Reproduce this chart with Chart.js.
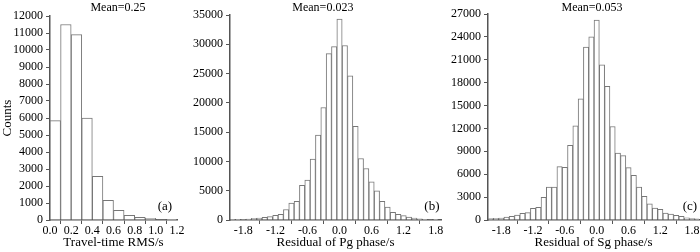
<!DOCTYPE html>
<html>
<head>
<meta charset="utf-8">
<script src="https://cdn.jsdelivr.net/npm/chart.js@4/dist/chart.umd.min.js"></script>
<style>
  body { margin: 0; background: #fff; }
  .panel { position: absolute; top: 0; height: 252px; }
</style>
</head>
<body>
<div class="panel" style="left:0;width:185px"><canvas id="chartA"></canvas></div>
<div class="panel" style="left:185px;width:260px"><canvas id="chartB"></canvas></div>
<div class="panel" style="left:445px;width:255px"><canvas id="chartC"></canvas></div>
<script>
// bin centres and counts
var rmsBins = [0.05, 0.15, 0.25, 0.35, 0.45, 0.55, 0.65, 0.75, 0.85, 0.95, 1.05, 1.15];
var rmsCounts = [5850, 11500, 10900, 6000, 2570, 1150, 570, 280, 160, 100, 30, 10];

var pgBins = [-2.0, -1.9, -1.8, -1.7, -1.6, -1.5, -1.4, -1.3, -1.2, -1.1, -1.0, -0.9, -0.8, -0.7, -0.6, -0.5, -0.4, -0.3, -0.2, -0.1,
              0.0, 0.1, 0.2, 0.3, 0.4, 0.5, 0.6, 0.7, 0.8, 0.9, 1.0, 1.1, 1.2, 1.3, 1.4, 1.5, 1.6, 1.7, 1.8];
var pgCounts = [40, 60, 100, 170, 280, 340, 460, 580, 800, 950, 1800, 2900, 3200, 5900, 6800, 10400, 14500, 19200, 28400, 29600,
                34300, 29800, 24600, 16000, 10500, 8800, 6500, 5000, 3200, 2200, 1300, 950, 750, 500, 340, 200, 130, 80, 50];

var sgBins = [-2.0, -1.9, -1.8, -1.7, -1.6, -1.5, -1.4, -1.3, -1.2, -1.1, -1.0, -0.9, -0.8, -0.7, -0.6, -0.5, -0.4, -0.3, -0.2, -0.1,
              0.0, 0.1, 0.2, 0.3, 0.4, 0.5, 0.6, 0.7, 0.8, 0.9, 1.0, 1.1, 1.2, 1.3, 1.4, 1.5, 1.6, 1.7, 1.8, 1.9];
var sgCounts = [175, 220, 260, 390, 480, 650, 870, 960, 1530, 1660, 2970, 4300, 4300, 7000, 6900, 9800, 12350, 15870, 22660, 24000,
                26200, 20340, 17520, 12260, 8780, 8430, 6870, 5870, 4310, 3090, 2130, 1560, 1390, 900, 760, 600, 470, 300, 200, 150];

var rmsTicks = [0.0, 0.2, 0.4, 0.6, 0.8, 1.0, 1.2];
var residTicks = [-1.8, -1.2, -0.6, 0.0, 0.6, 1.2, 1.8];

Chart.defaults.font.family = '"Liberation Serif", "Times New Roman", serif';
Chart.defaults.font.size = 12;
Chart.defaults.color = '#000';

var axisColor = '#555';

// draws the "Mean=" label on top and the panel tag in the lower right
var panelText = {
    id: 'panelText',
    afterDraw: function(chart, args, opts) {
        var ctx = chart.ctx, a = chart.chartArea;
        ctx.save();
        ctx.font = '12px "Liberation Serif"';
        ctx.fillStyle = '#000';
        ctx.textAlign = 'center';
        ctx.textBaseline = 'middle';
        ctx.fillText(opts.mean, a.left + opts.meanX * (a.right - a.left), 8);
        ctx.font = '13px "Liberation Serif"';
        ctx.fillText(opts.tag, a.left + opts.tagX * (a.right - a.left), 207);
        ctx.restore();
    }
};

function createHist(canvasId, bins, counts, p) {
    var ctx = document.getElementById(canvasId).getContext('2d');
    var pts = bins.map(function(b, i) { return {x: b, y: counts[i]}; });
    return new Chart(ctx, {
        type: 'bar',
        data: {
            datasets: [{
                data: pts,
                backgroundColor: '#fff',
                borderColor: '#777',
                borderWidth: 1,
                borderSkipped: 'bottom',
                barPercentage: 1,
                categoryPercentage: 1
            }]
        },
        options: {
            responsive: true,
            maintainAspectRatio: false,
            animation: false,
            layout: { padding: { top: p.top, right: p.right, left: 0, bottom: 0 } },
            plugins: {
                legend: { display: false },
                tooltip: { enabled: false },
                panelText: { mean: p.mean, meanX: p.meanX, tag: p.tag, tagX: p.tagX }
            },
            scales: {
                x: {
                    type: 'linear',
                    offset: false,
                    min: p.xmin,
                    max: p.xmax,
                    afterBuildTicks: function(s) { s.ticks = p.xticks.map(function(v) { return {value: v}; }); },
                    afterFit: function(s) { s.height = 32; },
                    ticks: {
                        padding: 0,
                        maxRotation: 0,
                        autoSkip: false,
                        callback: function(v) { return v.toFixed(1); }
                    },
                    grid: { drawOnChartArea: false, drawTicks: true, tickLength: 4, color: axisColor },
                    border: { color: axisColor, width: 1.5 },
                    title: { display: true, text: p.xtitle, font: { size: 13 }, padding: { top: 0, bottom: 2 } }
                },
                y: {
                    min: 0,
                    max: p.ymax,
                    afterFit: function(s) { s.width = p.yw; },
                    ticks: {
                        stepSize: p.ystep,
                        padding: 3,
                        autoSkip: false,
                        callback: function(v) { return String(v); }
                    },
                    grid: { drawOnChartArea: false, drawTicks: true, tickLength: 4, color: axisColor },
                    border: { color: axisColor, width: 1.5 },
                    title: { display: p.ytitle !== '', text: p.ytitle, font: { size: 13 }, padding: 0 }
                }
            }
        },
        plugins: [panelText]
    });
}

createHist('chartA', rmsBins, rmsCounts, {
    top: 16, right: 8, yw: 50, xmin: 0, xmax: 1.2, xticks: rmsTicks,
    ymax: 12000, ystep: 1000, xtitle: 'Travel-time RMS/s', ytitle: 'Counts',
    mean: 'Mean=0.25', meanX: 0.535, tag: '(a)', tagX: 0.905
});
createHist('chartB', pgBins, pgCounts, {
    top: 15, right: 4, yw: 45, xmin: -2.05, xmax: 1.9, xticks: residTicks,
    ymax: 35000, ystep: 5000, xtitle: 'Residual of Pg phase/s', ytitle: '',
    mean: 'Mean=0.023', meanX: 0.44, tag: '(b)', tagX: 0.957
});
createHist('chartC', sgBins, sgCounts, {
    top: 14, right: 1, yw: 43, xmin: -2.05, xmax: 1.93, xticks: residTicks,
    ymax: 27000, ystep: 3000, xtitle: 'Residual of Sg phase/s', ytitle: '',
    mean: 'Mean=0.053', meanX: 0.493, tag: '(c)', tagX: 0.957
});
</script>
</body>
</html>
